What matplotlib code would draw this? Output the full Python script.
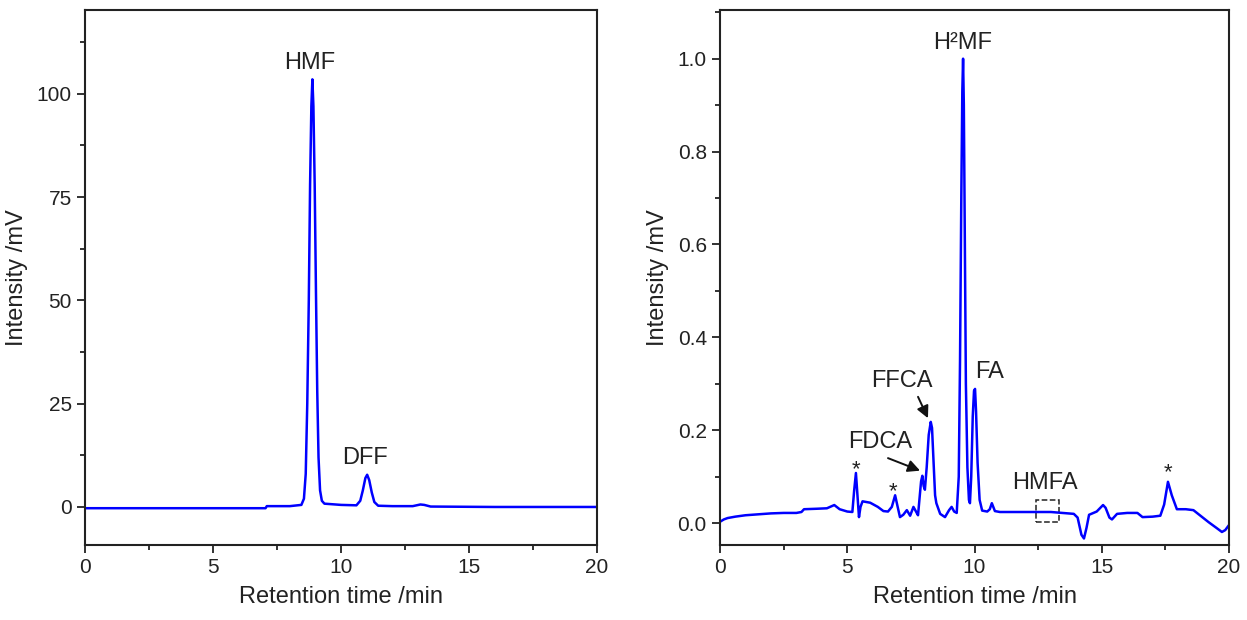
import matplotlib.pyplot as plt
from matplotlib.patches import Rectangle
from matplotlib.ticker import MultipleLocator

plt.rcParams['font.family'] = ['Liberation Sans', 'DejaVu Sans']

# chromatogram of the starting solution (retention time in min, signal in mV)
t_left = [0.0, 3.0, 7.05, 7.1, 8.0, 8.45, 8.55, 8.62, 8.68, 8.74, 8.79, 8.84, 8.88,
          8.92, 8.97, 9.02, 9.07, 9.12, 9.18, 9.25, 9.35, 10.0, 10.6, 10.75, 10.85,
          10.95, 11.02, 11.1, 11.2, 11.3, 11.45, 12.0, 12.8, 13.1, 13.25, 13.5, 16.0, 20.0]
i_left = [-0.3, -0.3, -0.3, 0.2, 0.2, 0.5, 2.0, 8.0, 25.0, 50.0, 78.0, 97.0, 103.5,
          97.0, 78.0, 52.0, 28.0, 12.0, 4.0, 1.5, 0.8, 0.5, 0.4, 1.5, 4.0,
          7.0, 7.8, 6.5, 3.5, 1.2, 0.3, 0.2, 0.2, 0.6, 0.5, 0.1, 0.0, 0.0]

# chromatogram of the reaction mixture
t_right = [0.0, 0.15, 0.3, 0.6, 1.0, 1.5, 2.0, 2.5, 3.0, 3.2, 3.3, 3.8, 4.2, 4.49, 4.7,
           5.0, 5.2, 5.27, 5.34, 5.4, 5.46, 5.52, 5.6, 5.9, 6.2, 6.42, 6.6, 6.75,
           6.88, 6.98, 7.07, 7.2, 7.34, 7.47, 7.6, 7.7, 7.78, 7.85, 7.9, 7.95, 8.0,
           8.05, 8.12, 8.2, 8.28, 8.33, 8.4, 8.45, 8.5, 8.65, 8.84, 9.0, 9.1, 9.2,
           9.3, 9.38, 9.43, 9.48, 9.52, 9.55, 9.58, 9.62, 9.66, 9.72, 9.78, 9.82,
           9.87, 9.93, 9.98, 10.02, 10.06, 10.12, 10.2, 10.3, 10.5, 10.6, 10.68,
           10.8, 11.0, 12.0, 13.0, 13.9, 14.05, 14.2, 14.3, 14.4, 14.5, 14.8, 15.05,
           15.15, 15.3, 15.4, 15.6, 16.0, 16.4, 16.6, 17.0, 17.3, 17.45, 17.6, 17.75,
           17.95, 18.3, 18.6, 18.9, 19.2, 19.5, 19.72, 19.85, 20.0]
i_right = [0.003, 0.008, 0.011, 0.014, 0.017, 0.019, 0.021, 0.022, 0.022, 0.024, 0.030, 0.031, 0.032, 0.039, 0.030,
           0.025, 0.024, 0.07, 0.108, 0.06, 0.013, 0.035, 0.047, 0.044, 0.035, 0.026, 0.025, 0.035,
           0.060, 0.035, 0.013, 0.018, 0.028, 0.016, 0.035, 0.025, 0.017, 0.06, 0.09, 0.102, 0.08,
           0.072, 0.12, 0.19, 0.218, 0.205, 0.12, 0.06, 0.043, 0.02, 0.013, 0.028, 0.035, 0.025,
           0.022, 0.1, 0.35, 0.7, 0.93, 1.0, 0.9, 0.6, 0.3, 0.12, 0.05, 0.043,
           0.1, 0.23, 0.285, 0.289, 0.24, 0.13, 0.05, 0.027, 0.025, 0.03, 0.043,
           0.026, 0.024, 0.024, 0.024, 0.02, 0.012, -0.025, -0.033, -0.01, 0.018, 0.025, 0.039,
           0.033, 0.012, 0.008, 0.02, 0.022, 0.022, 0.013, 0.014, 0.016, 0.04, 0.089, 0.06,
           0.03, 0.03, 0.028, 0.015, 0.002, -0.01, -0.019, -0.015, -0.004]

# peak labels: (text, time, intensity)
left_labels = [('HMF', 8.79, 107.5), ('DFF', 10.94, 11.9)]
right_labels = [('H²MF', 9.55, 1.034), ('FA', 10.6, 0.325), ('FFCA', 7.15, 0.306),
                ('FDCA', 6.29, 0.175), ('HMFA', 12.77, 0.086)]
stars = [(5.34, 0.115), (6.8, 0.068), (17.6, 0.109)]
# arrows: (tail time, tail intensity, head time, head intensity)
arrows = [(7.78, 0.272, 8.17, 0.226), (6.6, 0.140, 7.86, 0.113)]

fig = plt.figure(figsize=(12.47, 6.2), dpi=100)
ax1 = fig.add_axes([0.0682, 0.121, 0.4106, 0.863])
ax2 = fig.add_axes([0.5774, 0.121, 0.4082, 0.863])

ax1.plot(t_left, i_left, color='#0000ff', lw=1.8)
ax2.plot(t_right, i_right, color='#0000ff', lw=1.8)

for txt, x, y in left_labels:
    ax1.text(x, y, txt, ha='center', va='center', fontsize=17, color='#222222')
for txt, x, y in right_labels:
    ax2.text(x, y, txt, ha='center', va='center', fontsize=17, color='#222222')
for x, y in stars:
    ax2.text(x, y, '*', ha='center', va='center', fontsize=16, color='#222222')
for x0, y0, x1, y1 in arrows:
    ax2.annotate('', xy=(x1, y1), xytext=(x0, y0),
                 arrowprops=dict(arrowstyle='-|>', color='#111111', lw=1.4,
                                 mutation_scale=18, shrinkA=0, shrinkB=0))

# HMFA region marker
ax2.add_patch(Rectangle((12.42, 0.002), 0.9, 0.048, fill=False,
                        edgecolor='#222222', linestyle='--', lw=1.1))

ax1.set_ylim(-9.2, 120.3)
ax1.yaxis.set_major_locator(MultipleLocator(25))
ax1.yaxis.set_minor_locator(MultipleLocator(12.5))
ax2.set_ylim(-0.047, 1.105)
ax2.yaxis.set_major_locator(MultipleLocator(0.2))
ax2.yaxis.set_minor_locator(MultipleLocator(0.1))
ax2.yaxis.set_major_formatter(plt.FormatStrFormatter('%.1f'))

for ax in (ax1, ax2):
    ax.set_xlim(0, 20)
    ax.xaxis.set_major_locator(MultipleLocator(5))
    ax.xaxis.set_minor_locator(MultipleLocator(2.5))
    ax.set_xlabel('Retention time /min', fontsize=17, labelpad=6, color='#222222')
    ax.set_ylabel('Intensity /mV', fontsize=17, labelpad=6, color='#222222')
    ax.tick_params(which='both', direction='out', top=False, right=False,
                   labelsize=15, width=1.3, colors='#222222')
    ax.tick_params(which='major', length=6)
    ax.tick_params(which='minor', length=3.5)
    for s in ax.spines.values():
        s.set_linewidth(1.5)
        s.set_color('#222222')

fig.savefig('out.png', dpi=100)
